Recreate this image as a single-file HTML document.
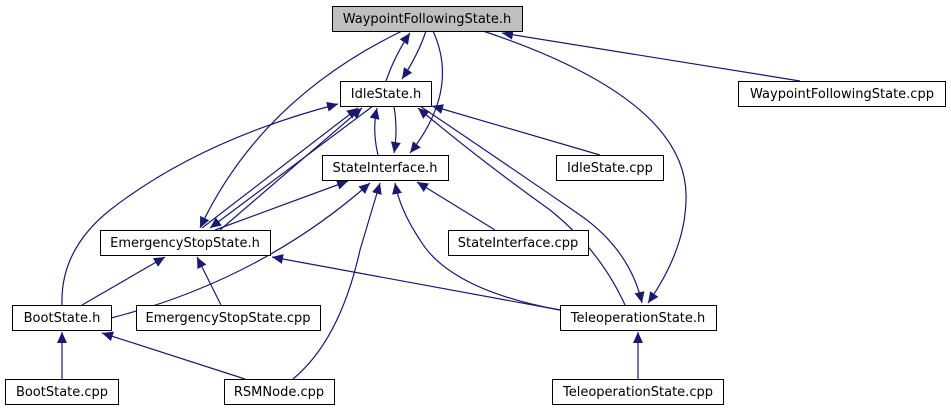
<!DOCTYPE html>
<html><head><meta charset="utf-8"><style>
body{margin:0;background:#fff;width:951px;height:411px;overflow:hidden}
svg text{font-family:"DejaVu Sans","Liberation Sans",sans-serif;font-size:13px;fill:#000}
</style></head><body>
<svg width="951" height="411" viewBox="0 0 951 411" xmlns="http://www.w3.org/2000/svg">
<defs><marker id="a" markerUnits="userSpaceOnUse" markerWidth="12" markerHeight="10" refX="11" refY="5" orient="auto"><path d="M0,0 L11,5 L0,10 Z" fill="#191970"/></marker></defs>
<g fill="none" stroke="#191970" stroke-width="1.2" marker-end="url(#a)">
<path d="M386,81 Q395,55 410,33"/>
<path d="M426,31 Q418,55 402,79"/>
<path d="M433,31 Q460,90 410,153"/>
<path d="M402,31 Q260,100 200,228"/>
<path d="M483,31 Q690,100 686,200 Q685,250 648,303"/>
<path d="M800,81 L502,33"/>
<path d="M378,155 Q372,130 377,108"/>
<path d="M394,106 Q398,130 394,153"/>
<path d="M220,230 L362,108"/>
<path d="M373,106 L210,228"/>
<path d="M202,228 L358,108"/>
<path d="M62,305 Q60,250 110,210 Q200,140 338,104"/>
<path d="M600,155 L432,106"/>
<path d="M625,305 Q600,250 550,210 Q480,160 418,108"/>
<path d="M420,106 Q500,160 580,215 Q630,250 642,303"/>
<path d="M215,230 L348,181"/>
<path d="M111,318 Q260,280 370,183"/>
<path d="M293,379 Q340,340 360,250 Q375,200 380,183"/>
<path d="M560,310 Q450,290 420,240 Q400,210 395,183"/>
<path d="M495,230 L417,182"/>
<path d="M82,305 L165,257"/>
<path d="M221,305 L197,257"/>
<path d="M560,310 L272,257"/>
<path d="M62,379 L62,332"/>
<path d="M245,379 L102,333"/>
<path d="M638,379 L638,332"/>
</g>
<g stroke="#000" stroke-width="1">
<rect x="332.5" y="6.5" width="190" height="25" fill="#bfbfbf"/>
<rect x="340.5" y="81.5" width="91" height="25" fill="#fff"/>
<rect x="322.5" y="155.5" width="126" height="25" fill="#fff"/>
<rect x="100.5" y="230.5" width="170" height="25" fill="#fff"/>
<rect x="12.5" y="305.5" width="99" height="25" fill="#fff"/>
<rect x="136.5" y="305.5" width="184" height="25" fill="#fff"/>
<rect x="5.5" y="379.5" width="113" height="25" fill="#fff"/>
<rect x="224.5" y="379.5" width="110" height="25" fill="#fff"/>
<rect x="738.5" y="81.5" width="207" height="25" fill="#fff"/>
<rect x="556.5" y="155.5" width="107" height="25" fill="#fff"/>
<rect x="448.5" y="230.5" width="140" height="25" fill="#fff"/>
<rect x="560.5" y="305.5" width="156" height="25" fill="#fff"/>
<rect x="552.5" y="379.5" width="171" height="25" fill="#fff"/>
</g>
<g text-anchor="middle">
<text x="427" y="23">WaypointFollowingState.h</text>
<text x="386" y="98">IdleState.h</text>
<text x="385" y="172">StateInterface.h</text>
<text x="185" y="247">EmergencyStopState.h</text>
<text x="62" y="322">BootState.h</text>
<text x="228" y="322">EmergencyStopState.cpp</text>
<text x="62" y="396">BootState.cpp</text>
<text x="279" y="396">RSMNode.cpp</text>
<text x="842" y="98">WaypointFollowingState.cpp</text>
<text x="610" y="172">IdleState.cpp</text>
<text x="518" y="247">StateInterface.cpp</text>
<text x="638" y="322">TeleoperationState.h</text>
<text x="638" y="396">TeleoperationState.cpp</text>
</g>
</svg>
</body></html>
